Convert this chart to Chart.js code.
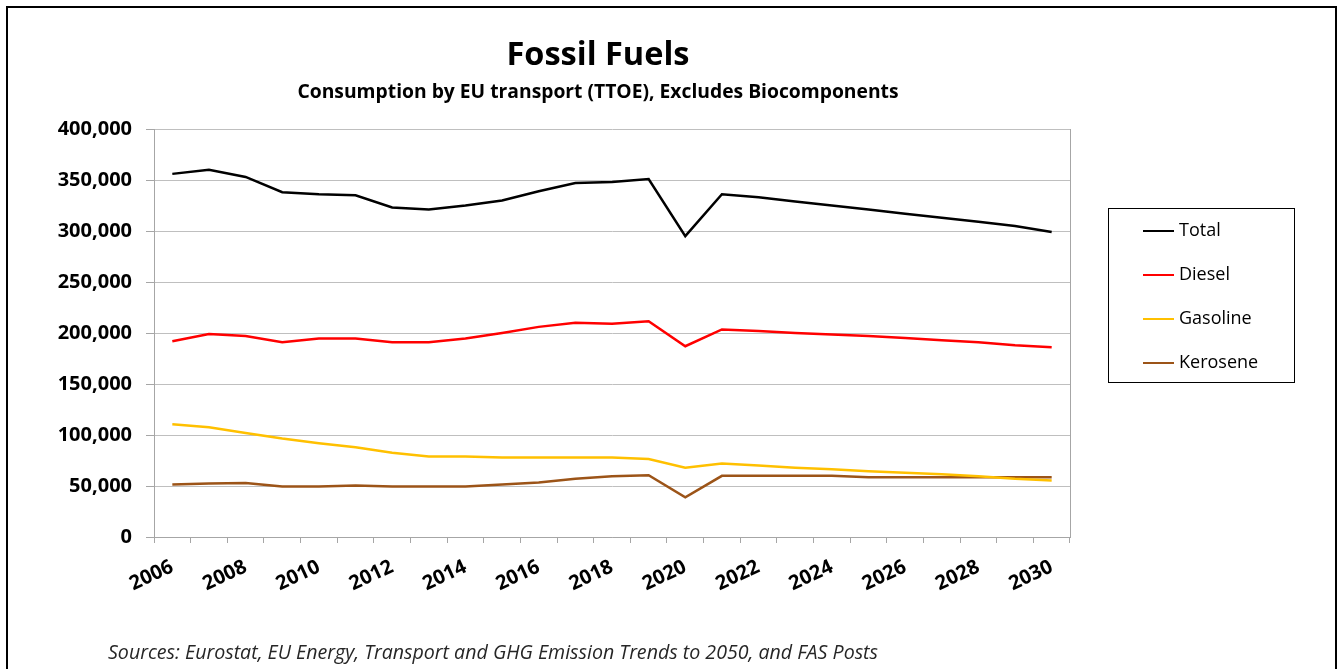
<!DOCTYPE html>
<html>
<head>
<meta charset="utf-8">
<script src="https://cdn.jsdelivr.net/npm/chart.js@4/dist/chart.umd.min.js"></script>
<style>
  body { margin: 0; background: #fff; }
  #wrap { position: relative; width: 1340px; height: 669px; overflow: hidden; font-family: "Open Sans", sans-serif; }
  #frame { position: absolute; left: 6px; top: 6px; width: 1327px; height: 720px; border: 2px solid #000; }
  canvas { position: absolute; left: 0; top: 0; }
  .title { position: absolute; left: 248px; width: 700px; text-align: center; font-weight: bold; color: #000; }
  #t1 { top: 32px; font-size: 32.5px; line-height: 42px; }
  #t2 { top: 78px; font-size: 19.3px; line-height: 26px; }
  #src { position: absolute; left: 108px; top: 639px; font-size: 19.6px; line-height: 26px; font-style: italic; color: #262626; }
  #legend { position: absolute; left: 1108px; top: 208px; width: 185px; height: 173px; border: 1px solid #000; }
  .item { position: absolute; left: 34px; font-size: 18px; line-height: 24px; color: #000; }
  .item span { display: inline-block; width: 31px; height: 2.5px; margin-right: 5px; vertical-align: middle; }
</style>
</head>
<body>
<div id="wrap">
  <div id="frame"></div>
  <canvas id="chart-1" width="1340" height="669"></canvas>
  <div class="title" id="t1">Fossil Fuels</div>
  <div class="title" id="t2">Consumption by EU transport (TTOE), Excludes Biocomponents</div>
  <div id="src">Sources: Eurostat, EU Energy, Transport and GHG Emission Trends to 2050, and FAS Posts</div>
  <div id="legend"></div>
</div>
<script>
const years = ['2006','2007','2008','2009','2010','2011','2012','2013','2014','2015','2016','2017','2018',
               '2019','2020','2021','2022','2023','2024','2025','2026','2027','2028','2029','2030'];

const total    = [356000, 360000, 353000, 338000, 336000, 335000, 323000, 321000, 325000, 330000, 339000, 347000, 348000,
                  351000, 295000, 336000, 333000, 329000, 325000, 321000, 317000, 313000, 309000, 305000, 299000];
const diesel   = [192000, 199000, 197000, 191000, 194500, 194500, 191000, 191000, 194500, 200000, 206000, 210000, 209000,
                  211500, 187000, 203500, 202000, 200000, 198500, 197000, 195000, 193000, 191000, 188000, 186000];
const gasoline = [110500, 107500, 102000, 96500, 92000, 88000, 82500, 79000, 79000, 78000, 78000, 78000, 78000,
                  76500, 68000, 72000, 70000, 68000, 66500, 64500, 63000, 61500, 59500, 57000, 55500];
const kerosene = [51500, 52500, 53000, 49500, 49500, 50500, 49500, 49500, 49500, 51500, 53500, 57000, 59500,
                  60500, 39000, 60000, 60000, 60000, 60000, 58500, 58500, 58500, 58500, 58500, 58500];

const yTicks = [0, 50000, 100000, 150000, 200000, 250000, 300000, 350000, 400000];

const series = [
    { label: 'Total',    data: total,    color: '#000000' },
    { label: 'Diesel',   data: diesel,   color: '#ff0000' },
    { label: 'Gasoline', data: gasoline, color: '#ffc000' },
    { label: 'Kerosene', data: kerosene, color: '#9c5418' }
];

// legend box
const legend = document.getElementById('legend');
series.forEach((s, i) => {
    const d = document.createElement('div');
    d.className = 'item';
    d.style.top = (8 + i * 44) + 'px';
    d.innerHTML = '<span style="background:' + s.color + '"></span>' + s.label;
    legend.appendChild(d);
});

const ctx = document.getElementById('chart-1').getContext('2d');
const tickFont = { family: 'Open Sans', size: 20, weight: 'bold' };

new Chart(ctx, {
    type: 'line',
    data: {
        labels: years,
        datasets: series.map(s => ({
            label: s.label,
            data: s.data,
            borderColor: s.color,
            backgroundColor: s.color,
            borderWidth: 2.5,
            pointRadius: 0,
            tension: 0,
            fill: false
        }))
    },
    options: {
        responsive: false,
        animation: false,
        devicePixelRatio: 1,
        layout: { padding: { left: 54, right: 270, top: 129, bottom: 72 } },
        plugins: {
            legend: { display: false },
            title: { display: false },
            tooltip: { enabled: false }
        },
        scales: {
            x: {
                type: 'category',
                offset: true,
                grid: {
                    offset: true,
                    drawOnChartArea: false,
                    drawTicks: true,
                    tickLength: 6,
                    color: '#a6a6a6'
                },
                border: { color: '#a6a6a6' },
                ticks: {
                    autoSkip: false,
                    minRotation: 25,
                    maxRotation: 25,
                    padding: 12,
                    color: '#000',
                    font: tickFont,
                    callback: (v, i) => (i % 2 === 0 ? years[i] : '')
                },
                afterFit: s => { s.height = 60; }
            },
            y: {
                min: 0,
                max: 400000,
                grid: { color: '#bfbfbf', tickLength: 8, tickColor: '#a6a6a6' },
                border: { color: '#a6a6a6' },
                afterBuildTicks: s => { s.ticks = yTicks.map(v => ({ value: v })); },
                ticks: {
                    padding: 14,
                    color: '#000',
                    font: tickFont,
                    callback: v => v.toLocaleString('en-US')
                },
                afterFit: s => { s.width = 100; }
            },
            y2: {
                position: 'right',
                grid: { drawOnChartArea: false, drawTicks: false },
                border: { color: '#a6a6a6' },
                ticks: { display: false },
                afterFit: s => { s.width = 0; }
            }
        }
    }
});
</script>
</body>
</html>
